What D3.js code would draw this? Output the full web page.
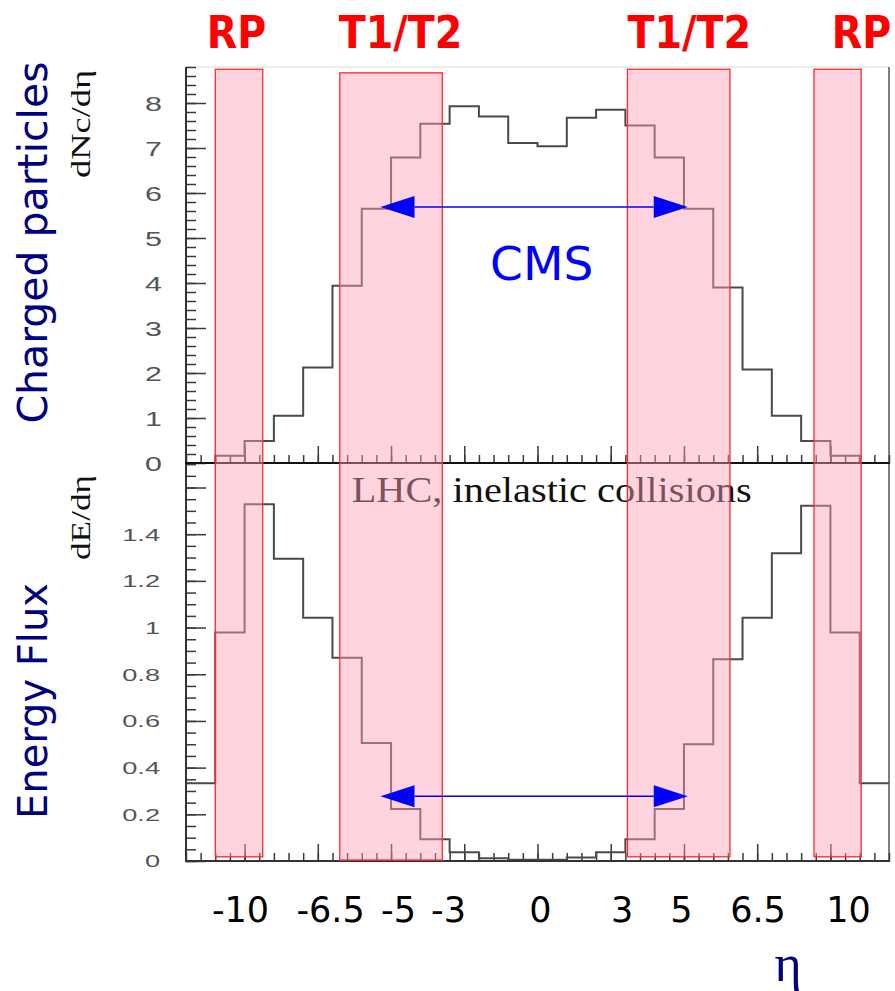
<!DOCTYPE html>
<html>
<head>
<meta charset="utf-8">
<script src="https://cdn.jsdelivr.net/npm/d3@7"></script>
<style>
  body { margin: 0; background: #fff; }
  svg { display: block; }
</style>
</head>
<body>
<script>
// histogram bins: lower edge in eta, 1 unit wide
var binLow = [-12, -11, -10, -9, -8, -7, -6, -5, -4, -3, -2, -1, 0, 1, 2, 3, 4, 5, 6, 7, 8, 9, 10, 11];
var dNcdEta = [0, 0.16, 0.49, 1.05, 2.12, 3.94, 5.65, 6.79, 7.54, 7.93, 7.70, 7.11, 7.04, 7.67, 7.85, 7.50, 6.79, 5.65, 3.90, 2.08, 1.05, 0.49, 0.16, 0];
var dEdEta = [0.333, 0.979, 1.528, 1.295, 1.042, 0.871, 0.505, 0.223, 0.093, 0.037, 0.012, 0.005, 0.005, 0.015, 0.037, 0.093, 0.223, 0.500, 0.864, 1.042, 1.318, 1.522, 0.979, 0.333];

var topTicks = [0, 1, 2, 3, 4, 5, 6, 7, 8];
var botTicks = [0, 0.2, 0.4, 0.6, 0.8, 1, 1.2, 1.4, 1.6];
var botTickLabels = ["0", "0.2", "0.4", "0.6", "0.8", "1", "1.2", "1.4", ""];

var etaValues = [-10, -6.5, -5, -3, 0, 3, 5, 6.5, 10];
var etaLabels = ["-10", "-6.5", "-5", "-3", "0", "3", "5", "6.5", "10"];

// detector coverage (eta) and how far the shaded band reaches
var detNames = ["RP", "T1/T2", "T1/T2", "RP"];
var detLo = [-11.0, -6.75, 3.07, 9.44];
var detHi = [-9.38, -3.25, 6.57, 11.05];
var detTop = [8.75, 8.67, 8.75, 8.75];      // dNc/deta units
var detBottom = [0.018, 0.004, 0.018, 0.018]; // dE/deta units

// CMS acceptance arrows
var cmsEta = [-5.36, 5.13];
var cmsTopY = 5.69;
var cmsBotY = 0.277;

var W = 895, H = 991;
var svg = d3.select("body").append("svg")
	.attr("width", W)
	.attr("height", H)
	.attr("xmlns", "http://www.w3.org/2000/svg");

var x = d3.scaleLinear().domain([-12, 12]).range([186, 889]);
var yTop = d3.scaleLinear().domain([0, 8.8]).range([463, 67]);
var yBot = d3.scaleLinear().domain([0, 1.705]).range([861, 463]);

// frame
svg.append("line").attr("x1", 186).attr("x2", 889).attr("y1", 67).attr("y2", 67)
	.attr("stroke", "#e6e6e6").attr("stroke-width", 1.5);
svg.append("line").attr("x1", 889).attr("x2", 889).attr("y1", 67).attr("y2", 862)
	.attr("stroke", "#555").attr("stroke-width", 1.5);

// y axes
function yAxis(scale, major, labels, minorStep, fs, sx, pad){
	var g = svg.append("g").attr("transform", "translate(186,0)");
	var minor = d3.range(0, scale.domain()[1] + 1e-6, minorStep);
	g.append("g").call(d3.axisLeft(scale).tickValues(minor).tickSizeInner(-10).tickSizeOuter(0).tickFormat(""))
		.call(function(s){ s.select(".domain").remove(); });
	var ax = g.append("g").call(d3.axisLeft(scale).tickValues(major).tickSizeInner(-20).tickSizeOuter(0)
		.tickFormat(function(d, i){ return labels[i]; }));
	ax.select(".domain").remove();
	ax.attr("font-family", "'Liberation Sans', Arial, sans-serif").attr("font-size", fs);
	ax.selectAll("text")
		.attr("fill", "#555")
		.attr("x", -pad / sx)
		.attr("dy", "0.36em")
		.attr("transform", "scale(" + sx + ",1)");
	g.selectAll(".tick line").attr("stroke", "#3a3a3a").attr("stroke-width", 1.5);
}
yAxis(yTop, topTicks, topTicks.map(String), 0.2, 21, 1.45, 24);
yAxis(yBot, botTicks, botTickLabels, 0.05, 16.5, 1.65, 26);

// x ticks, pointing up, on both panels
var xMinor = d3.range(-12, 12.01, 0.5);
var xMajor = d3.range(-10, 10.01, 2.5);
[463, 861].forEach(function(yy){
	var g = svg.append("g").attr("transform", "translate(0," + yy + ")");
	g.append("g").call(d3.axisTop(x).tickValues(xMinor).tickSizeInner(8).tickSizeOuter(0).tickFormat(""));
	g.append("g").call(d3.axisTop(x).tickValues(xMajor).tickSizeInner(17).tickSizeOuter(0).tickFormat(""));
	g.selectAll(".domain").remove();
	g.selectAll(".tick line").attr("stroke", "#3a3a3a").attr("stroke-width", 1.5);
});

// histograms
function steps(vals){
	var pts = [];
	vals.forEach(function(v, i){
		pts.push([binLow[i], v]);
		pts.push([binLow[i] + 1, v]);
	});
	return pts;
}
svg.append("path")
	.attr("d", d3.line().x(function(d){ return x(d[0]); }).y(function(d){ return yTop(d[1]); })(steps(dNcdEta)))
	.attr("fill", "none").attr("stroke", "#4a4a4a").attr("stroke-width", 2);
svg.append("path")
	.attr("d", d3.line().x(function(d){ return x(d[0]); }).y(function(d){ return yBot(d[1]); })(steps(dEdEta)))
	.attr("fill", "none").attr("stroke", "#4a4a4a").attr("stroke-width", 2);

// axis lines
svg.append("line").attr("x1", 186).attr("x2", 186).attr("y1", 67).attr("y2", 862)
	.attr("stroke", "#333").attr("stroke-width", 2);
svg.append("line").attr("x1", 185).attr("x2", 890).attr("y1", 463).attr("y2", 463)
	.attr("stroke", "#111").attr("stroke-width", 2.2);
svg.append("line").attr("x1", 185).attr("x2", 890).attr("y1", 861).attr("y2", 861)
	.attr("stroke", "#333").attr("stroke-width", 2);

// axis titles inside the root plot
svg.append("text")
	.attr("transform", "translate(90,124) rotate(-90)")
	.attr("text-anchor", "middle")
	.attr("font-family", "'Liberation Serif', 'Times New Roman', serif")
	.attr("font-size", 27)
	.attr("textLength", 108).attr("lengthAdjust", "spacingAndGlyphs")
	.attr("fill", "#111")
	.text("dNc/dη");
svg.append("text")
	.attr("transform", "translate(90,517.5) rotate(-90)")
	.attr("text-anchor", "middle")
	.attr("font-family", "'Liberation Serif', 'Times New Roman', serif")
	.attr("font-size", 27)
	.attr("textLength", 85).attr("lengthAdjust", "spacingAndGlyphs")
	.attr("fill", "#111")
	.text("dE/dη");
svg.append("text")
	.attr("x", 351.7).attr("y", 501.7)
	.attr("font-family", "'Liberation Serif', 'Times New Roman', serif")
	.attr("font-size", 35)
	.attr("textLength", 400).attr("lengthAdjust", "spacingAndGlyphs")
	.attr("fill", "#111")
	.text("LHC, inelastic collisions");

// shaded detector bands
detNames.forEach(function(n, i){
	svg.append("rect")
		.attr("x", x(detLo[i]))
		.attr("y", yTop(detTop[i]))
		.attr("width", x(detHi[i]) - x(detLo[i]))
		.attr("height", yBot(detBottom[i]) - yTop(detTop[i]))
		.attr("fill", "rgba(255,160,182,0.45)")
		.attr("stroke", "#ff2a2a")
		.attr("stroke-width", 1.3);
});

// band names, nudged like the original annotation
var detNudge = [-8.6, -1, 0, 17.7];
detNames.forEach(function(n, i){
	svg.append("text")
		.attr("x", x(detLo[i]) + detNudge[i])
		.attr("y", 48.3)
		.attr("font-family", "'DejaVu Sans Condensed', 'DejaVu Sans', sans-serif")
		.attr("font-stretch", "condensed")
		.attr("font-weight", "bold")
		.attr("font-size", 44)
		.attr("fill", "#ff0000")
		.text(n);
});

// CMS arrows
function arrow(y){
	var x0 = x(cmsEta[0]), x1 = x(cmsEta[1]);
	var L = 34, h = 11;
	svg.append("line").attr("x1", x0 + L).attr("x2", x1 - L).attr("y1", y).attr("y2", y)
		.attr("stroke", "#0000ff").attr("stroke-width", 1.5);
	svg.append("path").attr("d", "M" + x0 + "," + y + "L" + (x0 + L) + "," + (y - h) + "L" + (x0 + L) + "," + (y + h) + "Z")
		.attr("fill", "#0000ff");
	svg.append("path").attr("d", "M" + x1 + "," + y + "L" + (x1 - L) + "," + (y - h) + "L" + (x1 - L) + "," + (y + h) + "Z")
		.attr("fill", "#0000ff");
}
arrow(yTop(cmsTopY));
arrow(yBot(cmsBotY));

svg.append("text")
	.attr("x", 541.7).attr("y", 280)
	.attr("text-anchor", "middle")
	.attr("font-family", "'DejaVu Sans', sans-serif")
	.attr("font-size", 47)
	.attr("fill", "#0000ff")
	.text("CMS");

// eta labels under the plot (hand placed in the original)
var etaNudge = [-4.6, -17, 7, -1.6, 2.5, -3.7, -3, 29.6, 17.6];
var ex = svg.append("g").attr("transform", "translate(0,922.3)")
	.call(d3.axisBottom(x).tickValues(etaValues).tickSize(0).tickFormat(function(d, i){ return etaLabels[i]; }));
ex.select(".domain").remove();
ex.attr("font-family", "'DejaVu Sans', sans-serif").attr("font-size", 35);
ex.selectAll("text").attr("fill", "#000").attr("y", 0).attr("dy", 0)
	.attr("x", function(d, i){ return etaNudge[i]; });

svg.append("text")
	.attr("x", 788).attr("y", 981)
	.attr("text-anchor", "middle")
	.attr("font-family", "'Liberation Serif', 'Times New Roman', serif")
	.attr("font-size", 52)
	.attr("fill", "#00007f")
	.text("η");

// panel titles
svg.append("text")
	.attr("transform", "translate(47,242.5) rotate(-90)")
	.attr("text-anchor", "middle")
	.attr("font-family", "'DejaVu Sans', sans-serif")
	.attr("font-size", 41)
	.attr("fill", "#00007f")
	.text("Charged particles");
svg.append("text")
	.attr("transform", "translate(47,701) rotate(-90)")
	.attr("text-anchor", "middle")
	.attr("font-family", "'DejaVu Sans', sans-serif")
	.attr("font-size", 40)
	.attr("fill", "#00007f")
	.text("Energy Flux");
</script>
</body>
</html>
